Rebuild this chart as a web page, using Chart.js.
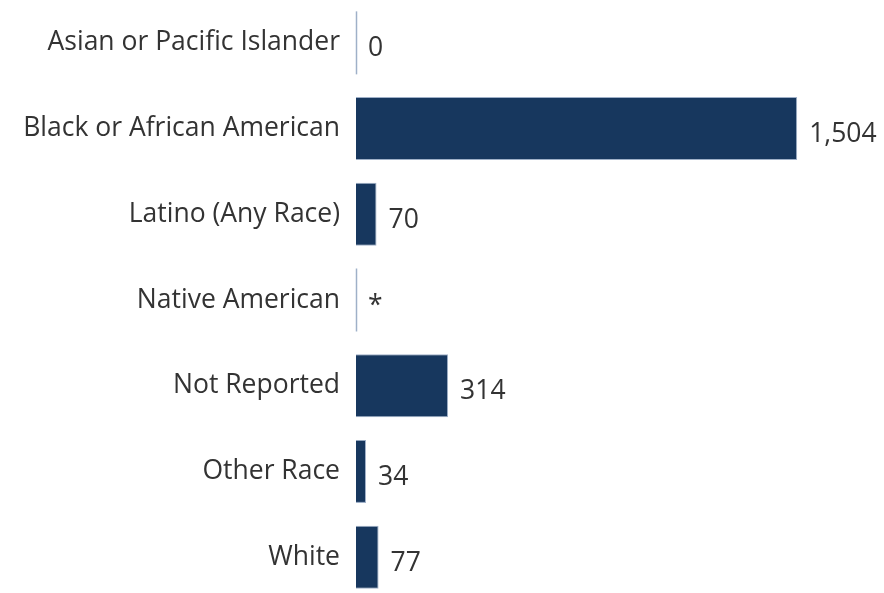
<!DOCTYPE html>
<html>
<head>
<meta charset="utf-8">
<script src="https://cdn.jsdelivr.net/npm/chart.js@4.4.1/dist/chart.umd.min.js"></script>
<style>
  html, body { margin: 0; padding: 0; background: #fff; overflow: hidden; }
  #wrap { position: relative; width: 884px; height: 600px; }
</style>
</head>
<body>
<div id="wrap"><canvas id="chart"></canvas></div>
<script>
"use strict";

const categories = [
  "Asian or Pacific Islander",
  "Black or African American",
  "Latino (Any Race)",
  "Native American",
  "Not Reported",
  "Other Race",
  "White"
];
// Native American is suppressed in the source, shown as "*"
const counts = [0, 1504, 70, 0, 314, 34, 77];
const valueLabels = ["0", "1,504", "70", "*", "314", "34", "77"];

const barColor = "#17375e";
const edgeColor = "#9fb0c8";
const textColor = "#333333";
const fontFamily = "'Open Sans', 'DejaVu Sans', sans-serif";
const fontSize = 26.5;

// draws the number next to each bar, and a thin line for the empty ones
const valueLabelPlugin = {
  id: "valueLabels",
  afterDatasetsDraw(chart) {
    const ctx = chart.ctx;
    const meta = chart.getDatasetMeta(0);
    ctx.save();
    meta.data.forEach(function (bar, i) {
      const props = bar.getProps(["x", "y", "base", "height"], true);
      if (counts[i] === 0) {
        ctx.strokeStyle = edgeColor;
        ctx.lineWidth = 1.5;
        ctx.beginPath();
        ctx.moveTo(props.base + 0.5, props.y - props.height / 2);
        ctx.lineTo(props.base + 0.5, props.y + props.height / 2);
        ctx.stroke();
      }
      ctx.fillStyle = textColor;
      ctx.font = fontSize + "px " + fontFamily;
      ctx.textAlign = "left";
      ctx.textBaseline = "middle";
      ctx.fillText(valueLabels[i], props.x + 12, props.y + 6);
    });
    ctx.restore();
  }
};

const config = {
  type: "bar",
  data: {
    labels: categories,
    datasets: [
      {
        data: counts,
        backgroundColor: barColor,
        borderColor: edgeColor,
        borderWidth: 1,
        borderSkipped: "left",
        categoryPercentage: 1,
        barPercentage: 0.735
      }
    ]
  },
  options: {
    indexAxis: "y",
    responsive: true,
    maintainAspectRatio: false,
    animation: false,
    layout: { padding: { top: 0, right: 0, bottom: 0, left: 0 } },
    plugins: {
      legend: { display: false },
      tooltip: { enabled: false }
    },
    scales: {
      x: {
        display: false,
        min: 0,
        max: 1800
      },
      y: {
        afterFit(scale) {
          scale.width = 356;
          scale.paddingTop = 0;
          scale.paddingBottom = 0;
        },
        border: { display: false },
        grid: { display: false, drawTicks: false },
        ticks: {
          color: textColor,
          padding: 16,
          font: { family: fontFamily, size: fontSize }
        }
      }
    }
  },
  plugins: [valueLabelPlugin]
};

const myChart = new Chart(document.getElementById("chart"), config);
</script>
</body>
</html>
